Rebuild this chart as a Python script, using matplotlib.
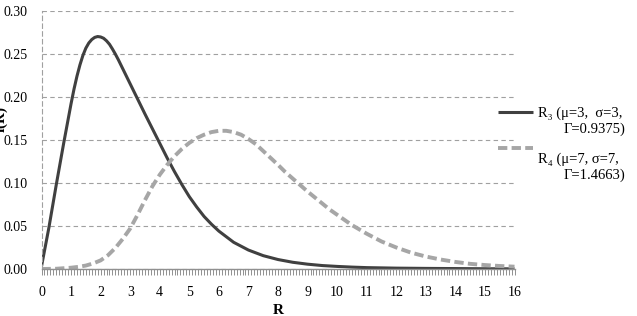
import numpy as np
import matplotlib.pyplot as plt
from matplotlib.lines import Line2D

plt.rcParams['font.family'] = ['Liberation Serif', 'DejaVu Serif']

# values
r3_x = [0, 0.25, 0.5, 0.75, 1.0, 1.1, 1.2, 1.3, 1.4, 1.5, 1.6, 1.7, 1.8, 1.9, 2.0,
        2.1, 2.2, 2.3, 2.4, 2.5, 2.6, 2.7, 2.8, 2.9, 3.0, 3.25, 3.5, 3.75, 4.0, 4.25,
        4.5, 4.75, 5.0, 5.25, 5.5, 5.75, 6.0, 6.5, 7.0, 7.5, 8.0, 8.5, 9.0, 9.5, 10,
        10.5, 11, 12, 13, 14, 15, 16]
r3_y = [0.003, 0.048, 0.098, 0.146, 0.192, 0.209, 0.224, 0.237, 0.248, 0.2565, 0.2625,
        0.2665, 0.269, 0.270, 0.2695, 0.268, 0.265, 0.261, 0.2555, 0.2495, 0.243, 0.236,
        0.229, 0.222, 0.215, 0.1975, 0.180, 0.163, 0.146, 0.129, 0.113, 0.098, 0.084,
        0.072, 0.061, 0.052, 0.044, 0.031, 0.022, 0.0155, 0.011, 0.0078, 0.0056, 0.004,
        0.003, 0.0022, 0.0016, 0.001, 0.0007, 0.0005, 0.0003, 0.0002]

r4_x = [0, 0.5, 1.0, 1.25, 1.5, 1.75, 2.0, 2.25, 2.5, 2.75, 3.0, 3.25, 3.5, 3.75, 4.0,
        4.25, 4.5, 4.75, 5.0, 5.25, 5.5, 5.75, 6.0, 6.25, 6.5, 6.75, 7.0, 7.25, 7.5,
        7.75, 8.0, 8.25, 8.5, 8.75, 9.0, 9.25, 9.5, 9.75, 10.0, 10.5, 11.0, 11.5, 12.0,
        12.5, 13.0, 13.5, 14.0, 14.5, 15.0, 15.5, 16.0]
r4_y = [0.0, 0.0003, 0.0015, 0.0025, 0.004, 0.0065, 0.010, 0.016, 0.0245, 0.035, 0.047,
        0.063, 0.080, 0.096, 0.1095, 0.121, 0.131, 0.1395, 0.1465, 0.152, 0.156, 0.159,
        0.1605, 0.1605, 0.159, 0.156, 0.151, 0.145, 0.137, 0.129, 0.121, 0.1125, 0.105,
        0.0975, 0.090, 0.083, 0.076, 0.069, 0.063, 0.051, 0.041, 0.032, 0.025, 0.019,
        0.0145, 0.011, 0.0082, 0.006, 0.0046, 0.0035, 0.0027]

r3_label = ['R\u2083 (\u03bc=3,  \u03c3=3,', '\u0393=0.9375)']
r4_label = ['R\u2084 (\u03bc=7, \u03c3=7,', '\u0393=1.4663)']

solid = dict(color='#404040', lw=2.2, solid_capstyle='butt')
dashed = dict(color='#a6a6a6', lw=2.8, dashes=(2.4, 1.1))

fig = plt.figure(figsize=(6.37, 3.16), dpi=100)
ax = fig.add_axes([41.5 / 637, 1 - 269 / 316, 473 / 637, (269 - 10.7) / 316])

ax.plot(r3_x, r3_y, **solid)
ax.plot(r4_x, r4_y, **dashed)

ax.set_xlim(0, 16)
ax.set_ylim(0, 0.30)
ax.set_yticks(np.arange(0, 0.301, 0.05))
ax.set_yticklabels(['%.2f' % v for v in np.arange(0, 0.301, 0.05)])
ax.set_xticks(range(17))
ax.set_xticks(np.arange(0, 16.01, 0.1), minor=True)
ax.grid(axis='y', color='#a0a0a0', lw=0.8, ls=(0, (4, 3)))
ax.set_axisbelow(True)

for s in ['top', 'right']:
    ax.spines[s].set_visible(False)
ax.spines['left'].set_color('#a0a0a0')
ax.spines['left'].set_linestyle((0, (4, 3)))
ax.spines['left'].set_linewidth(0.8)
ax.spines['bottom'].set_color('#909090')
ax.spines['bottom'].set_linewidth(1.0)

ax.tick_params(axis='y', length=0, pad=10, labelsize=10)
ax.tick_params(axis='x', which='both', length=4, color='#909090', width=0.7,
               pad=8, labelsize=10)

ax.set_xlabel('R', fontsize=11, fontweight='bold', labelpad=4)
ax.set_ylabel('f(R)', fontsize=11, fontweight='bold')
ax.yaxis.set_label_coords(-0.07, 0.58)

# legend drawn by hand to keep the two-line labels right aligned
def legend_entry(y_line, y_text, style, label):
    fig.add_artist(Line2D([498 / 637, 533 / 637], [1 - y_line / 316] * 2, **style))
    fig.text(538 / 637, 1 - y_text / 316, label[0], fontsize=10.5, va='center', ha='left')
    fig.text(625 / 637, 1 - (y_text + 16.5) / 316, label[1], fontsize=10.5, va='center', ha='right')

legend_entry(112, 113, solid, r3_label)
legend_entry(148, 159, dashed, r4_label)

plt.savefig('out.png', dpi=100)
